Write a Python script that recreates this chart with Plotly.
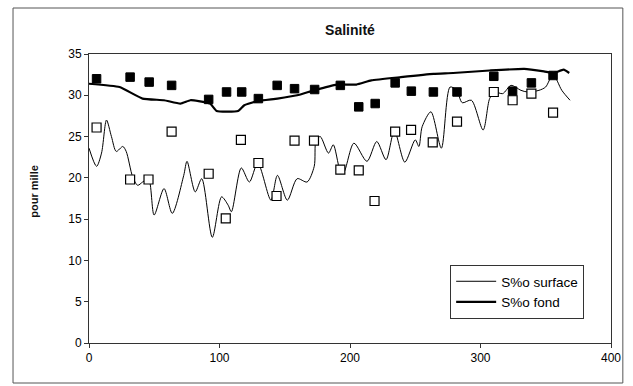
import plotly.graph_objects as go

# Surface salinity (continuous trace)
surf_x = [0, 5.8, 9.6, 13.4, 17.2, 20.9, 25.9, 28.5, 33.5, 37.3, 41.1, 45.6, 49.9, 57.5, 63.8,
          72.6, 75.1, 81.4, 86.4, 94.5, 101.6, 106.6, 109.1, 116.7, 122.9, 129.3, 139.4, 144.4,
          152, 159.5, 167.1, 172.6, 174, 177.2, 183.5, 187.2, 192.3, 195, 203, 213, 220.5, 227.6,
          234, 242, 250, 252.8, 255.3, 262, 270, 276.7, 281.8, 286, 293, 302, 307, 310.8, 317,
          323.4, 331, 336, 344.8, 349.9, 355.6, 362.3, 368.6]
surf_y = [23.6, 21.4, 23.0, 27.0, 25.0, 23.2, 23.8, 23.2, 20.1, 19.1, 19.5, 19.9, 15.5, 18.7, 15.7,
          20.3, 22.0, 18.3, 19.9, 12.8, 17.7, 16.7, 15.9, 21.2, 19.5, 21.8, 17.3, 20.3,
          17.3, 19.9, 19.5, 21.4, 24.6, 25.0, 23.0, 24.0, 21.0, 20.6, 24.2, 22.0, 24.4, 22.2,
          25.7, 21.9, 24.6, 23.8, 26.2, 28.0, 23.6, 31.0, 30.6, 29.1, 29.4, 25.8, 29.6, 30.4, 30.2,
          31.2, 30.6, 30.4, 30.6, 31.0, 32.5, 30.6, 29.4]

# Bottom salinity (continuous trace)
fond_x = [0, 23.4, 41, 57.5, 70, 77.6, 84, 92.8, 97.8, 114.2, 119, 129.3, 144.4, 159.5, 172.2,
          189.8, 204.9, 216.3, 239, 264, 279, 307, 333.5, 348.6, 356, 363.7, 368]
fond_y = [31.4, 31.0, 29.6, 29.4, 29.0, 29.4, 29.3, 29.0, 28.1, 28.1, 28.8, 29.3, 29.6, 30.0, 30.6,
          31.3, 31.3, 31.8, 32.2, 32.6, 32.7, 33.0, 33.2, 32.9, 32.7, 33.1, 32.7]

# Discrete bottom samples (filled squares)
fond_pts_x = [5.8, 31.5, 46.1, 63.3, 91.7, 105.4, 117, 129.8, 144.2, 157.5, 172.9, 192.6,
              206.7, 219.3, 234.6, 247, 263.9, 282, 310.2, 324.6, 339, 355.6]
fond_pts_y = [32.0, 32.2, 31.6, 31.2, 29.5, 30.4, 30.4, 29.6, 31.2, 30.8, 30.7, 31.2,
              28.6, 29.0, 31.5, 30.5, 30.4, 30.4, 32.3, 30.5, 31.5, 32.4]

# Discrete surface samples (open squares)
surf_pts_x = [5.8, 31.5, 45.6, 63.3, 91.7, 104.8, 116.4, 129.8, 143.7, 157.5, 172.4, 192.6,
              206.7, 218.8, 234.6, 246.8, 263.4, 282, 310.2, 324.6, 339, 355.6]
surf_pts_y = [26.1, 19.8, 19.8, 25.6, 20.5, 15.1, 24.6, 21.8, 17.8, 24.5, 24.5, 21.0,
              20.9, 17.2, 25.6, 25.8, 24.3, 26.8, 30.4, 29.4, 30.2, 27.9]

x_ticks = [0, 100, 200, 300, 400]
y_ticks = [0, 5, 10, 15, 20, 25, 30, 35]

FONT = "Liberation Sans, Arial, sans-serif"

fig = go.Figure()
fig.add_trace(go.Scatter(x=surf_x, y=surf_y, mode="lines", name="S%o surface",
                         line=dict(color="black", width=1, shape="spline", smoothing=0.8)))
fig.add_trace(go.Scatter(x=fond_x, y=fond_y, mode="lines", name="S%o fond",
                         line=dict(color="black", width=2.2, shape="spline", smoothing=0.4)))
fig.add_trace(go.Scatter(x=fond_pts_x, y=fond_pts_y, mode="markers", showlegend=False,
                         marker=dict(symbol="square", size=8.5, color="black",
                                     line=dict(color="black", width=1))))
fig.add_trace(go.Scatter(x=surf_pts_x, y=surf_pts_y, mode="markers", showlegend=False,
                         marker=dict(symbol="square", size=9, color="white",
                                     line=dict(color="black", width=1.2))))

L, R, T, B = 89, 618, 54, 343
W, H = 633, 386
pw, ph = R - L, B - T

def px(x):
    return (x - L) / pw

def py(y):
    return (B - y) / ph

fig.update_layout(
    width=W, height=H,
    margin=dict(l=L, r=W - R, t=T, b=H - B),
    paper_bgcolor="white", plot_bgcolor="white",
    font=dict(family=FONT, color="black", size=12),
    title=dict(text="<b>Salinité</b>", x=0.5, xref="paper", xanchor="center",
               y=1 - 30 / H, yref="container", yanchor="middle",
               font=dict(size=14, family=FONT, color="#111")),
    xaxis=dict(range=[0, 400], tickvals=x_ticks, ticks="outside", ticklen=4,
               tickcolor="#333", showgrid=False, zeroline=False, showline=True,
               linecolor="#333", linewidth=1, mirror=True,
               tickfont=dict(size=12, family=FONT)),
    yaxis=dict(range=[0, 35], tickvals=y_ticks, ticks="outside", ticklen=4,
               tickcolor="#333", showgrid=False, zeroline=False, showline=True,
               linecolor="#333", linewidth=1, mirror=True,
               tickfont=dict(size=12, family=FONT)),
    legend=dict(x=px(455), y=py(265), xanchor="left", yanchor="top",
                bgcolor="white", bordercolor="#333", borderwidth=1,
                font=dict(size=13.5, family=FONT), itemwidth=40,
                tracegroupgap=2),
    showlegend=True,
)

fig.add_annotation(text="<b>pour mille</b>", textangle=-90, x=px(33), y=py(191),
                   xref="paper", yref="paper", xanchor="center", yanchor="middle",
                   showarrow=False,
                   font=dict(size=11, family=FONT, color="#111"))

fig.add_shape(type="rect", xref="paper", yref="paper",
              x0=px(12), x1=px(630), y0=py(383), y1=py(8),
              line=dict(color="#555", width=1), fillcolor="rgba(0,0,0,0)", layer="below")

fig.write_html("out.html")
